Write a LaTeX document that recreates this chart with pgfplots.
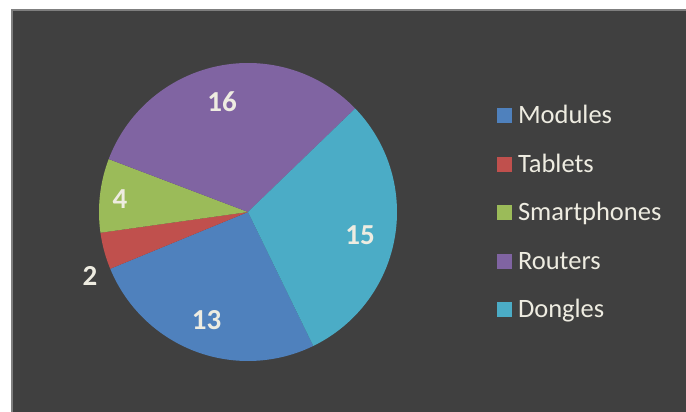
\documentclass[border=0pt]{standalone}
\usepackage{fontspec}
\setmainfont{Carlito}
\usepackage{pgfplots}
\pgfplotsset{compat=1.18}
\definecolor{bgdark}{HTML}{404040}
\definecolor{framecol}{HTML}{7F7F7F}
\definecolor{txt}{HTML}{EEECE1}
\definecolor{cMod}{HTML}{4F81BD}
\definecolor{cTab}{HTML}{C0504D}
\definecolor{cSma}{HTML}{9BBB59}
\definecolor{cRou}{HTML}{8064A2}
\definecolor{cDon}{HTML}{4BACC6}
\begin{document}
\begin{tikzpicture}
% data values
\def\vMod{13}\def\vTab{2}\def\vSma{4}\def\vRou{16}\def\vDon{15}
\pgfmathsetmacro\tot{\vMod+\vTab+\vSma+\vRou+\vDon}
\pgfmathsetmacro\cx{248}\pgfmathsetmacro\cy{200}\pgfmathsetmacro\rr{149}
\pgfmathsetmacro\aA{296}
\pgfmathsetmacro\aB{\aA-360*\vMod/\tot}
\pgfmathsetmacro\aC{\aB-360*\vTab/\tot}
\pgfmathsetmacro\aD{\aC-360*\vSma/\tot}
\pgfmathsetmacro\aE{\aD-360*\vRou/\tot}
\pgfmathsetmacro\aF{\aE-360*\vDon/\tot}
\begin{axis}[
  scale only axis, width=686pt, height=412pt,
  xmin=0, xmax=686, ymin=0, ymax=412,
  hide axis, clip=false,
  legend image code/.code={\fill[#1] (0pt,-7.5pt) rectangle (15pt,7.5pt);},
  legend style={at={(axis cs:497,320.65)}, anchor=north west, draw=none, fill=none,
    inner sep=0pt, outer sep=0pt, column sep=6pt, row sep=0pt,
    font=\fontsize{26.5}{30}\selectfont, text=txt,
    nodes={inner sep=0pt, text height=32.65pt, text depth=15.85pt}},
  legend cell align=left,
]
\path (axis cs:0,0) rectangle (axis cs:686,412);
\fill[framecol] (axis cs:11,0) rectangle (axis cs:686,403);
\fill[bgdark] (axis cs:13,0) rectangle (axis cs:686,401);
\addplot[fill=cMod, draw=none, domain=\aB:\aA, samples=80, variable=\t]
  ({\cx+\rr*cos(\t)},{\cy+\rr*sin(\t)}) -- (axis cs:\cx,\cy) -- cycle;
\addlegendentry{Modules}
\addplot[fill=cTab, draw=none, domain=\aC:\aB, samples=20, variable=\t]
  ({\cx+\rr*cos(\t)},{\cy+\rr*sin(\t)}) -- (axis cs:\cx,\cy) -- cycle;
\addlegendentry{Tablets}
\addplot[fill=cSma, draw=none, domain=\aD:\aC, samples=30, variable=\t]
  ({\cx+\rr*cos(\t)},{\cy+\rr*sin(\t)}) -- (axis cs:\cx,\cy) -- cycle;
\addlegendentry{Smartphones}
\addplot[fill=cRou, draw=none, domain=\aE:\aD, samples=90, variable=\t]
  ({\cx+\rr*cos(\t)},{\cy+\rr*sin(\t)}) -- (axis cs:\cx,\cy) -- cycle;
\addlegendentry{Routers}
\addplot[fill=cDon, draw=none, domain=\aF:\aE, samples=90, variable=\t]
  ({\cx+\rr*cos(\t)},{\cy+\rr*sin(\t)}) -- (axis cs:\cx,\cy) -- cycle;
\addlegendentry{Dongles}
\addplot[draw=none, mark=none, forget plot, nodes near coords,
  point meta=explicit symbolic,
  nodes near coords style={anchor=center, inner sep=0pt, text=txt,
    font=\fontsize{29}{32}\selectfont\bfseries}]
  coordinates {(222,310.5)[16] (360,176.5)[15] (206.5,91.5)[13] (120,213)[4] (90,136.5)[2]};
\end{axis}
\end{tikzpicture}
\end{document}
